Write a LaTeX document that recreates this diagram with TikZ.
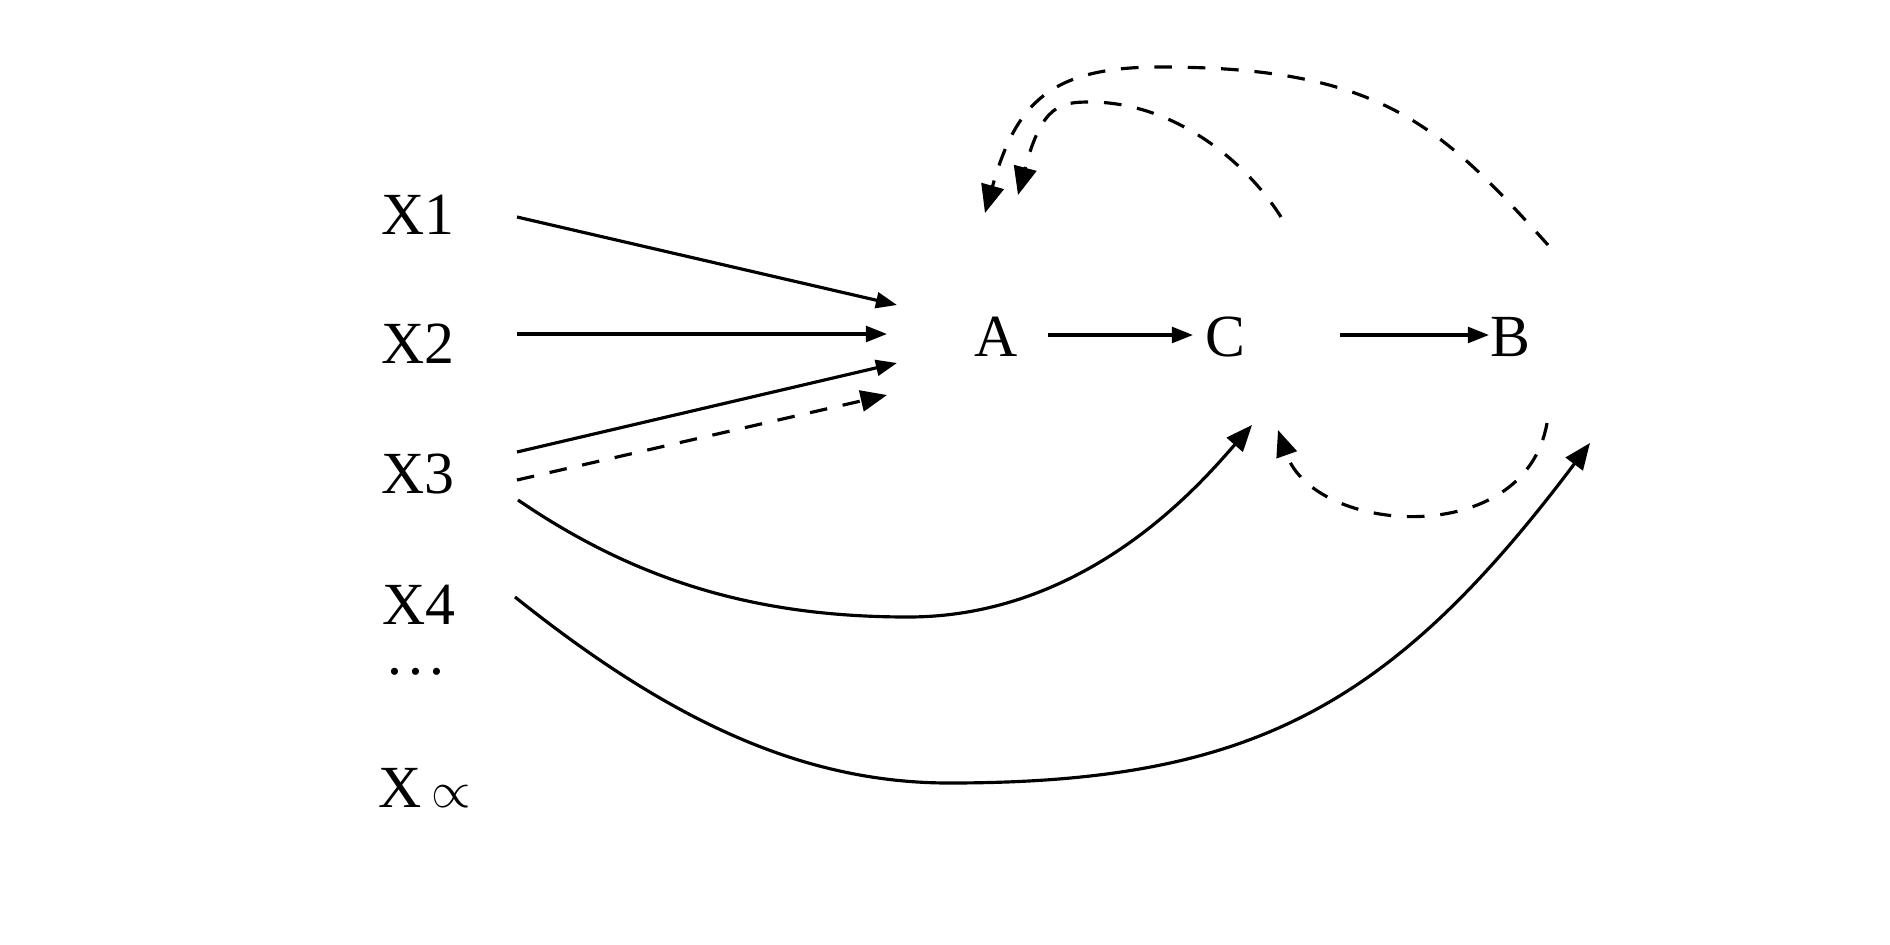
\documentclass[tikz,border=0pt]{standalone}
\usepackage{fontspec}
\setmainfont{Liberation Serif}
\usetikzlibrary{arrows.meta}
\begin{document}
\begin{tikzpicture}[x=0.01cm,y=-0.01cm,
  lbl/.style={inner sep=0pt, font=\fontsize{17}{20}\selectfont},
  conn/.style={line width=0.9pt, -{Triangle[length=6pt,width=4.5pt]}},
  cconn/.style={line width=0.9pt, -{Triangle[length=7.5pt,width=6pt]}},
  dconn/.style={line width=0.9pt, dash pattern=on 5pt off 4.5pt, -{Triangle[length=7.5pt,width=6pt]}},
  darc/.style={line width=0.9pt, dash pattern=on 5pt off 4.5pt, -{Triangle[length=8pt,width=6.5pt]}}]
\fill[white] (0,0) rectangle (1890,945);
\useasboundingbox (0,0) rectangle (1890,945);

% labels
\node[lbl] (X1) at (418,215) {X1};
\node[lbl] (X2) at (418,344) {X2};
\node[lbl] (X3) at (418,474) {X3};
\node[lbl] (X4) at (419,605) {X4};
\node[lbl] (dots) at (416,672) {.\kern1.6pt.\kern1.6pt.};
\node[lbl] (Xinf) at (425,788) {X\,{\fontsize{15}{15}\selectfont$\propto$}};
\node[lbl] (A) at (996,337) {A};
\node[lbl] (C) at (1225,337) {C};
\node[lbl] (B) at (1510,337) {B};

\coordinate (x3low) at (908,617);
\coordinate (x4low) at (949,783);
\coordinate (outtop) at (1160,67);
\coordinate (intop) at (1090,102);

% straight arrows into A
\draw[conn] ([shift={(99,2)}]X1.center) -- ([shift={(-99,-32)}]A.center);
\draw[conn] ([shift={(99,-10)}]X2.center) -- ([shift={(-109,-3)}]A.center);
\draw[conn] ([shift={(99,-22)}]X3.center) -- ([shift={(-99,26)}]A.center);
\draw[dconn] ([shift={(99,6)}]X3.center) -- ([shift={(-109,58)}]A.center);

% chain
\draw[conn] ([shift={(52,-2)}]A.center) -- ([shift={(-32,-2)}]C.center);
\draw[conn] ([shift={(115,-2)}]C.center) -- ([shift={(-21,-2)}]B.center);

% lower curves
\draw[cconn] ([shift={(100,26)}]X3.center) .. controls (638,582) and (758,617) .. (x3low)
  .. controls (1088,617) and (1202,482) .. ([shift={(27,88)}]C.center);
\draw[cconn] ([shift={(96,-8)}]X4.center) .. controls (665,717) and (799,783) .. (x4low)
  .. controls (1249,783) and (1390,709) .. ([shift={(80,106)}]B.center);

% dashed B -> C below
\draw[dconn] ([shift={(37,86)}]B.center) .. controls (1525,550) and (1315,535) .. ([shift={(53,93)}]C.center);

% dashed top arcs
\draw[darc] ([shift={(38,-92)}]B.center) .. controls (1440,125) and (1380,67) .. (outtop)
  .. controls (1050,67) and (1016,103) .. ([shift={(-11,-124)}]A.center);
\draw[darc] ([shift={(56,-120)}]C.center) .. controls (1243,157) and (1170,102) .. (intop)
  .. controls (1060,102) and (1042,105) .. ([shift={(22,-142)}]A.center);
\end{tikzpicture}
\end{document}
